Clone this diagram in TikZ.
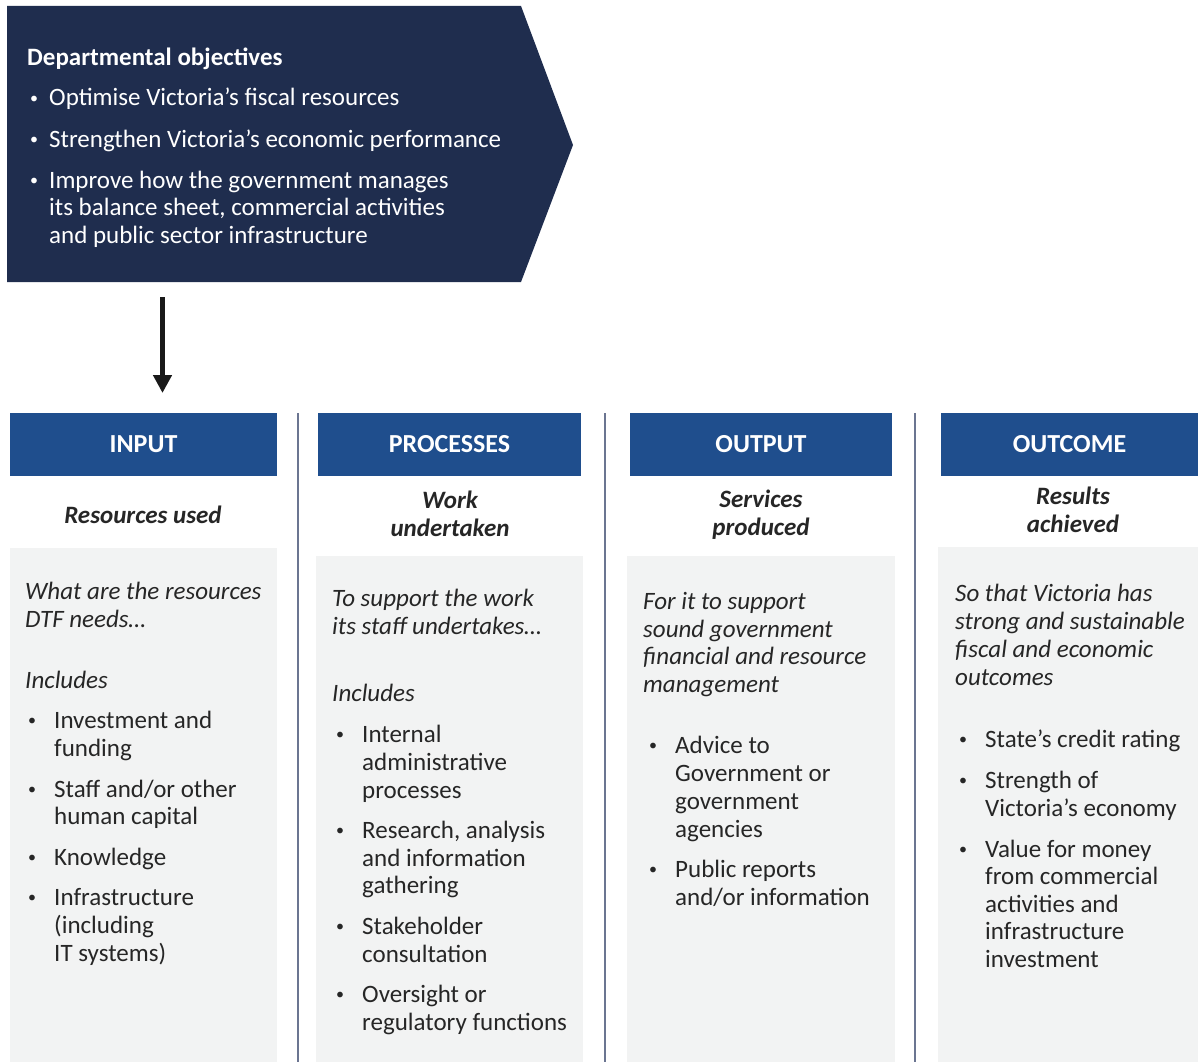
\documentclass[tikz,border=0pt]{standalone}
\usepackage{fontspec}
\setmainfont{Carlito}
\usetikzlibrary{arrows.meta}
\definecolor{navy}{HTML}{1F2D4E}
\definecolor{hblue}{HTML}{1F4E8D}
\definecolor{boxgray}{HTML}{F2F3F3}
\definecolor{sepcol}{HTML}{6B7591}
\definecolor{txtc}{HTML}{262626}
\tikzset{
  body/.style={anchor=base west, inner sep=0pt, yshift=-1pt, font=\fontsize{25}{28}\selectfont, text=txtc},
  ital/.style={body, font=\fontsize{25}{28}\selectfont\itshape},
  wbody/.style={body, yshift=-1pt, text=white},
  wtitle/.style={wbody, font=\fontsize{25}{28}\selectfont\bfseries},
  subt/.style={anchor=base, inner sep=0pt, yshift=-1pt, font=\fontsize{25}{28}\selectfont\bfseries\itshape, text=txtc},
  hdr/.style={fill=hblue, text=white, inner sep=0pt, font=\fontsize{26}{28}\selectfont\bfseries, minimum height=63pt},
  graybox/.style={fill=boxgray},
  sepline/.style={draw=sepcol, line width=1.4pt},
  flowarrow/.style={draw=black!90, line width=5pt, -{Triangle[length=18pt,width=18pt]}}
}
\newcommand\bdot{\raisebox{2.5pt}{\fontsize{16}{16}\selectfont\textbullet}}
\newcommand\bitem[5][body]{\node[#1] (#2d) at (#3,#4) {\bdot}; \node[#1] (#2) at (#3+26,#4) {#5};}
\newcommand\wbitem[4]{\node[wbody] (#1d) at (#2,#3) {\bdot}; \node[wbody] (#1) at (#2+19,#3) {#4};}
\newcommand\tline[5][body]{\node[#1] (#2) at (#3,#4) {#5};}
\begin{document}
\begin{tikzpicture}[x=1pt,y=-1pt]
\useasboundingbox (0,0) rectangle (1198,1062);
% chevron
\fill[navy] (7,6) -- (521,6) -- (573,145) -- (521,282) -- (7,282) -- cycle;
\node[wtitle] (dtitle) at (27,64) {Departmental objectives};
\wbitem{o1}{30}{104}{Optimise Victoria’s fiscal resources}
\wbitem{o2}{30}{145}{Strengthen Victoria’s economic performance}
\wbitem{o3}{30}{186}{Improve how the government manages}
\tline[wbody]{o3b}{49}{213}{its balance sheet, commercial activities}
\tline[wbody]{o3c}{49}{241}{and public sector infrastructure}
% arrow
\coordinate (arrS) at (162.5,297);
\coordinate (arrE) at (162.5,393);
\draw[flowarrow] (arrS) -- (arrE);
% separators
\draw[sepline] (298,413) -- (298,1062);
\draw[sepline] (605,413) -- (605,1062);
\draw[sepline] (915,413) -- (915,1062);
% gray boxes
\fill[graybox] (10,548) rectangle (277,1062);
\fill[graybox] (316,556) rectangle (583,1062);
\fill[graybox] (627,556) rectangle (895,1062);
\fill[graybox] (938,547) rectangle (1198,1062);
% headers
\node[hdr, minimum width=267pt] (hin) at (143.5,444.5) {INPUT};
\node[hdr, minimum width=263pt] (hpr) at (449.5,444.5) {PROCESSES};
\node[hdr, minimum width=262pt] (hou) at (761,444.5) {OUTPUT};
\node[hdr, minimum width=257pt] (hoc) at (1069.5,444.5) {OUTCOME};
% subtitles
\node[subt] (s1) at (143,522) {Resources used};
\node[subt] (s2a) at (450,507) {Work};
\node[subt] (s2b) at (450,535) {undertaken};
\node[subt] (s3a) at (761,506) {Services};
\node[subt] (s3b) at (761,534) {produced};
\node[subt] (s4a) at (1073,503) {Results};
\node[subt] (s4b) at (1073,531) {achieved};
% column 1
\tline[ital]{c1a}{25}{598}{What are the resources}
\tline[ital]{c1b}{25}{626}{DTF needs…}
\tline[ital]{c1c}{25}{687}{Includes}
\bitem{c1d}{28}{727}{Investment and}
\tline{c1e}{54}{755}{funding}
\bitem{c1f}{28}{796}{Staff and/or other}
\tline{c1g}{54}{823}{human capital}
\bitem{c1h}{28}{864}{Knowledge}
\bitem{c1i}{28}{904}{Infrastructure}
\tline{c1j}{54}{932}{(including}
\tline{c1k}{54}{960}{IT systems)}
% column 2
\tline[ital]{c2a}{332}{605}{To support the work}
\tline[ital]{c2b}{332}{633}{its staff undertakes…}
\tline[ital]{c2c}{332}{700}{Includes}
\bitem{c2d}{336}{741}{Internal}
\tline{c2e}{362}{769}{administrative}
\tline{c2f}{362}{797}{processes}
\bitem{c2g}{336}{837}{Research, analysis}
\tline{c2h}{362}{865}{and information}
\tline{c2i}{362}{892}{gathering}
\bitem{c2j}{336}{933}{Stakeholder}
\tline{c2k}{362}{961}{consultation}
\bitem{c2l}{336}{1001}{Oversight or}
\tline{c2m}{362}{1029}{regulatory functions}
% column 3
\tline[ital]{c3a}{643}{608}{For it to support}
\tline[ital]{c3b}{643}{636}{sound government}
\tline[ital]{c3c}{643}{663}{financial and resource}
\tline[ital]{c3d}{643}{691}{management}
\bitem{c3e}{649}{752}{Advice to}
\tline{c3f}{675}{780}{Government or}
\tline{c3g}{675}{808}{government}
\tline{c3h}{675}{836}{agencies}
\bitem{c3i}{649}{876}{Public reports}
\tline{c3j}{675}{904}{and/or information}
% column 4
\tline[ital]{c4a}{955}{600}{So that Victoria has}
\tline[ital]{c4b}{955}{628}{strong and sustainable}
\tline[ital]{c4c}{955}{656}{fiscal and economic}
\tline[ital]{c4d}{955}{684}{outcomes}
\bitem{c4e}{959}{746}{State’s credit rating}
\bitem{c4f}{959}{787}{Strength of}
\tline{c4g}{985}{815}{Victoria’s economy}
\bitem{c4h}{959}{856}{Value for money}
\tline{c4i}{985}{883}{from commercial}
\tline{c4j}{985}{911}{activities and}
\tline{c4k}{985}{938}{infrastructure}
\tline{c4l}{985}{966}{investment}
\end{tikzpicture}
\end{document}
